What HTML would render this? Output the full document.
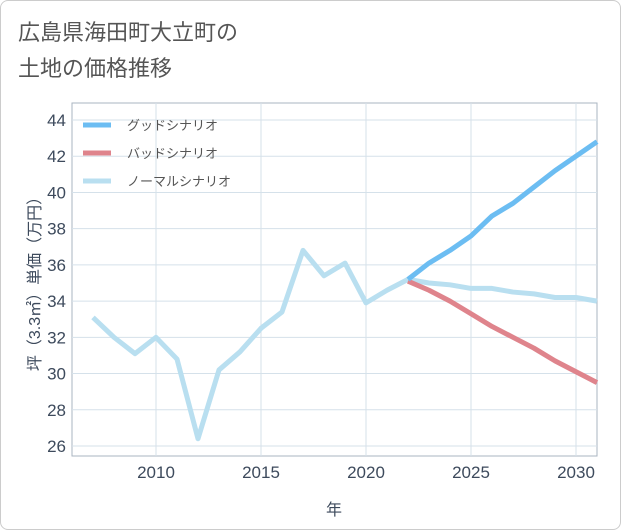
<!DOCTYPE html>
<html><head><meta charset="utf-8"><style>
body{margin:0;background:#fff;}
.card{position:absolute;left:0;top:0;width:619px;height:528px;border:1px solid #ccc;border-radius:8px;background:#fff;}
svg{position:absolute;left:0;top:0;font-family:"Liberation Sans","Noto Sans CJK JP",sans-serif;}
</style></head><body>
<div class="card"></div>
<svg width="621" height="530" id="chart">
<text x="18" y="40" font-size="22" fill="#555">広島県海田町大立町の</text>
<text x="18" y="76" font-size="22" fill="#555">土地の価格推移</text>
<g id="grid"></g><g id="lines"></g><g id="legend"></g>
<text transform="translate(40,280) rotate(-90)" text-anchor="middle" font-size="16" fill="#3d4a5c">坪（3.3㎡）単価（万円）</text>
<text x="334" y="515" text-anchor="middle" font-size="16" fill="#3d4a5c">年</text>
</svg>
<script>
const years=[2007,2008,2009,2010,2011,2012,2013,2014,2015,2016,2017,2018,2019,2020,2021,2022,2023,2024,2025,2026,2027,2028,2029,2030,2031];
const normal=[33.1,32.0,31.1,32.0,30.8,26.4,30.2,31.2,32.5,33.4,36.8,35.4,36.1,33.9,34.6,35.2,35.0,34.9,34.7,34.7,34.5,34.4,34.2,34.2,34.0];
const goodYears=[2022,2023,2024,2025,2026,2027,2028,2029,2030,2031];
const good=[35.2,36.1,36.8,37.6,38.7,39.4,40.3,41.2,42.0,42.8];
const bad=[35.1,34.6,34.0,33.3,32.6,32.0,31.4,30.7,30.1,29.5];
const yTicks=[26,28,30,32,34,36,38,40,42,44];
const xTicks=[2010,2015,2020,2025,2030];
const L=72,R=597,T=103,B=456;
const x=v=>156+(v-2010)*21;
const y=v=>120+(44-v)*(446-120)/18;
const NS="http://www.w3.org/2000/svg";
function mk(tag,attrs,parent){const e=document.createElementNS(NS,tag);for(const k in attrs)e.setAttribute(k,attrs[k]);parent.appendChild(e);return e;}
const grid=document.getElementById('grid');
const bg=mk('rect',{x:L,y:T,width:R-L,height:B-T,fill:'#fff',stroke:'#aab4c0'},grid);


yTicks.forEach(t=>{
  const l=mk('line',{x1:L,x2:R,y1:y(t),y2:y(t),stroke:'#d5e1ea'},grid);
  
  
  const tx=mk('text',{x:L-6,y:y(t)+6,'text-anchor':'end','font-size':17,fill:'#3d4a5c'},grid);
  tx.textContent=t;
  
  
});
xTicks.forEach(t=>{
  const l=mk('line',{x1:x(t),x2:x(t),y1:T,y2:B,stroke:'#d5e1ea'},grid);
  
  
  const tx=mk('text',{x:x(t),y:B+22,'text-anchor':'middle','font-size':17,fill:'#3d4a5c'},grid);
  tx.textContent=t;
  
  
});
const lines=document.getElementById('lines');
function series(xs,vals,color,name){
  const p=mk('polyline',{points:xs.map((v,i)=>x(v)+','+y(vals[i])).join(' '),fill:'none',stroke:color,'stroke-width':5,'stroke-linejoin':'round'},lines);
  
  
}
series(years,normal,'#b9dff0','normal-scenario-line');
series(goodYears,bad,'#df848c','bad-scenario-line');
series(goodYears,good,'#6cbdf2','good-scenario-line');
const lg=document.getElementById('legend');
[['グッドシナリオ','#6cbdf2','legend-good'],['バッドシナリオ','#df848c','legend-bad'],['ノーマルシナリオ','#b9dff0','legend-normal']].forEach((d,i)=>{
  const g=mk('g',{},lg);
  
  
  const yy=125+i*28;
  mk('line',{x1:83,x2:111,y1:yy,y2:yy,stroke:d[1],'stroke-width':5},g);
  const t=mk('text',{x:127,y:yy+5,'font-size':13,fill:'#555'},g);
  t.textContent=d[0];
});
</script>
</body></html>
